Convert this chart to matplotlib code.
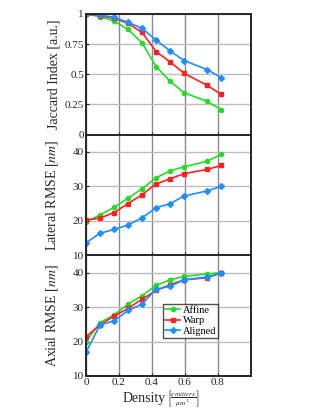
import numpy as np
import matplotlib
matplotlib.use('Agg')
import matplotlib.pyplot as plt

plt.rcParams['font.family'] = ['Liberation Serif', 'DejaVu Serif']
plt.rcParams['mathtext.fontset'] = 'stix'

density = [0, 0.085, 0.17, 0.255, 0.34, 0.425, 0.51, 0.595, 0.735, 0.82]

jac_affine = [1, 0.978, 0.942, 0.872, 0.761, 0.564, 0.442, 0.347, 0.275, 0.206]
jac_warp = [1, 0.986, 0.964, 0.922, 0.847, 0.689, 0.603, 0.508, 0.408, 0.333]
jac_aligned = [1, 0.992, 0.972, 0.931, 0.881, 0.783, 0.694, 0.614, 0.539, 0.472]

lat_affine = [19.7, 21.7, 23.9, 26.6, 29.3, 32.5, 34.5, 35.7, 37.3, 39.3]
lat_warp = [20.2, 20.8, 22.4, 25.0, 27.6, 30.7, 32.2, 33.7, 34.9, 36.1]
lat_aligned = [13.6, 16.4, 17.5, 18.8, 20.9, 23.8, 25.0, 27.2, 28.7, 30.0]

ax_affine = [20.0, 25.5, 27.7, 30.9, 33.3, 36.3, 37.9, 38.9, 39.6, 40.0]
ax_warp = [21.4, 24.8, 27.4, 29.6, 32.3, 34.8, 36.5, 37.9, 38.5, 39.9]
ax_aligned = [16.9, 24.8, 26.0, 29.0, 30.9, 35.2, 36.0, 37.9, 38.7, 39.9]

names = ['Affine', 'Warp', 'Aligned']
colors = ['#22dd22', '#ff2020', '#1e8fff']
markers = ['o', 's', 'D']

fig, axs = plt.subplots(3, 1, figsize=(3.25, 4.09), dpi=100, sharex=True)
fig.subplots_adjust(left=0.2646, right=0.7723, top=0.9658, bottom=0.0807, hspace=0)

panels = [
    (axs[0], [jac_affine, jac_warp, jac_aligned], 'Jaccard Index [a.u.]', (0, 1),
     [0, 0.25, 0.5, 0.75, 1], ['0', '0.25', '0.5', '0.75', '1']),
    (axs[1], [lat_affine, lat_warp, lat_aligned], 'Lateral RMSE [$nm$]', (10, 45),
     [10, 20, 30, 40], ['10', '20', '30', '40']),
    (axs[2], [ax_affine, ax_warp, ax_aligned], 'Axial RMSE [$nm$]', (10, 45),
     [10, 20, 30, 40], ['10', '20', '30', '40']),
]

for ax, series, label, ylim, yt, ytl in panels:
    for vals, name, c, m in zip(series, names, colors, markers):
        ax.plot(density, vals, color=c, marker=m, markersize=3, lw=1.2, label=name)
    ax.set_xlim(0, 1)
    ax.set_ylim(*ylim)
    ax.set_yticks(yt)
    ax.set_yticklabels(ytl)
    ax.set_xticks([0, 0.2, 0.4, 0.6, 0.8])
    ax.xaxis.grid(True, color='#8a8a8a', lw=1)
    ax.yaxis.grid(True, color='#bdbdbd', lw=1)
    ax.set_axisbelow(True)
    ax.tick_params(direction='in', length=2.5, labelsize=8, colors='#262626', pad=1.5)
    for s in ax.spines.values():
        s.set_color('#262626')
        s.set_linewidth(1.4)
    ax.set_ylabel(label, fontsize=10, color='#262626', labelpad=3)

axs[2].set_xticklabels(['0', '0.2', '0.4', '0.6', '0.8'])
# "Density" as the x label, the unit as a smaller bracketed fraction next to it
xl = axs[2].set_xlabel('Density', fontsize=10, color='#262626', ha='left', va='baseline')
axs[2].xaxis.set_label_coords(0.224, -0.212)
axs[2].annotate(r'$\left[\frac{emitters}{\mu m^2}\right]$', xy=(1, 0.47), xycoords=xl,
                xytext=(0.5, 0), textcoords='offset points',
                ha='left', va='center', fontsize=7.5, color='#262626')
fig.align_ylabels(axs)

leg = axs[2].legend(loc='upper left', bbox_to_anchor=(0.465, 0.6), fontsize=7.5,
                    frameon=True, fancybox=False, edgecolor='#262626',
                    handlelength=1.5, handletextpad=0.2, borderpad=0.2,
                    labelspacing=0.1, borderaxespad=0)
leg.get_frame().set_linewidth(1)

fig.savefig('out.png', dpi=100)
